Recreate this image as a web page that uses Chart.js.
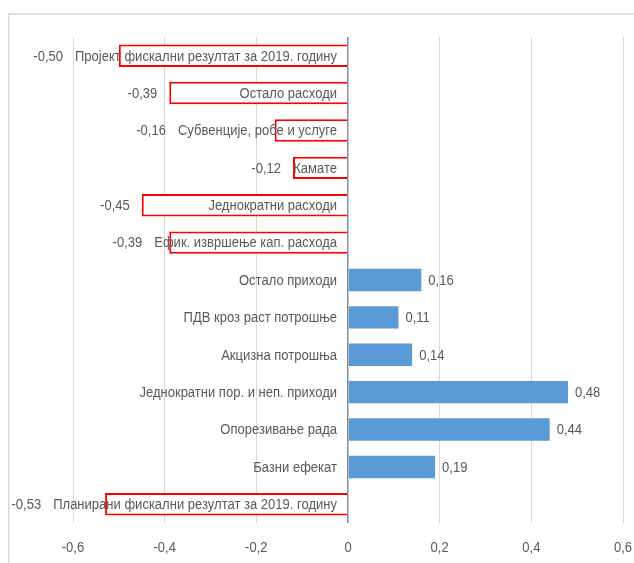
<!DOCTYPE html>
<html>
<head>
<meta charset="utf-8">
<script src="https://cdn.jsdelivr.net/npm/chart.js@4/dist/chart.umd.min.js"></script>
<style>
  html, body { margin: 0; padding: 0; background: #ffffff; }
  canvas { display: block; }
</style>
</head>
<body>
<canvas id="chart" width="634" height="563"></canvas>
<script>
/*global Chart*/

var categories = [
    "Пројект фискални резултат за 2019. годину",
    "Остало расходи",
    "Субвенције, робе и услуге",
    "Камате",
    "Једнократни расходи",
    "Ефик. извршење кап. расхода",
    "Остало приходи",
    "ПДВ кроз раст потрошње",
    "Акцизна потрошња",
    "Једнократни пор. и неп. приходи",
    "Опорезивање рада",
    "Базни ефекат",
    "Планирани фискални резултат за 2019. годину"
];

var values = [-0.50, -0.39, -0.16, -0.12, -0.45, -0.39, 0.16, 0.11, 0.14, 0.48, 0.44, 0.19, -0.53];

var xTicks = [-0.6, -0.4, -0.2, 0, 0.2, 0.4, 0.6];

var FONT = "14px 'Liberation Sans', Arial, sans-serif";
var SQUEEZE = 0.93; // narrow the text a bit, the original used Calibri
var TEXT = "#595959";

function comma(v, digits) {
    "use strict";
    return v.toFixed(digits).replace(".", ",");
}

function textWidth(ctx, s) {
    "use strict";
    return ctx.measureText(s).width * SQUEEZE;
}

// draws narrowed text, align is "left", "right" or "center"
function put(ctx, s, x, y, align) {
    "use strict";
    ctx.save();
    ctx.translate(x, y);
    ctx.scale(SQUEEZE, 1);
    ctx.textAlign = align;
    ctx.fillText(s, 0, 0);
    ctx.restore();
}

var labelPlugin = {
    id: "labelPlugin",
    beforeDraw: function (chart) {
        "use strict";
        var ctx = chart.ctx;
        ctx.save();
        ctx.strokeStyle = "#d9d9d9";
        ctx.lineWidth = 1.5;
        ctx.strokeRect(8.75, 13.75, 700, 700);
        ctx.restore();
    },
    afterDatasetsDraw: function (chart) {
        "use strict";
        var ctx = chart.ctx,
            meta = chart.getDatasetMeta(0),
            xs = chart.scales.x,
            zero = xs.getPixelForValue(0);
        ctx.save();
        ctx.font = FONT;
        ctx.fillStyle = TEXT;
        ctx.textBaseline = "middle";
        meta.data.forEach(function (bar, i) {
            var v = values[i],
                y = bar.y + 1,
                textStart = zero - 11 - textWidth(ctx, categories[i]);
            put(ctx, categories[i], zero - 11, y, "right");
            if (v < 0) {
                put(ctx, comma(v, 2), Math.min(bar.x, textStart) - 12, y, "right");
            } else {
                put(ctx, comma(v, 2), bar.x + 7, y, "left");
            }
        });
        xTicks.forEach(function (t) {
            put(ctx, t === 0 ? "0" : comma(t, 1), xs.getPixelForValue(t), chart.chartArea.bottom + 25, "center");
        });
        ctx.restore();
    }
};

var ctx = document.getElementById("chart").getContext("2d");

var chart = new Chart(ctx, {
    type: "bar",
    data: {
        labels: categories,
        datasets: [{
            data: values,
            backgroundColor: values.map(function (v) { return v < 0 ? "#ffffff" : "#5b9bd5"; }),
            borderColor: values.map(function (v) { return v < 0 ? "#ff0000" : "#5b9bd5"; }),
            borderWidth: values.map(function (v) { return v < 0 ? 2 : 0; }),
            barPercentage: 0.6,
            categoryPercentage: 1
        }]
    },
    options: {
        indexAxis: "y",
        responsive: false,
        animation: false,
        layout: {
            padding: { left: 73, right: 11, top: 37, bottom: 40 }
        },
        plugins: {
            legend: { display: false },
            tooltip: { enabled: false }
        },
        scales: {
            x: {
                min: xTicks[0],
                max: xTicks[xTicks.length - 1],
                afterBuildTicks: function (axis) {
                    axis.ticks = xTicks.map(function (v) { return { value: v }; });
                },
                afterFit: function (axis) {
                    axis.paddingLeft = 0;
                    axis.paddingRight = 0;
                },
                border: { display: false },
                grid: {
                    drawTicks: false,
                    color: function (c) { return c.tick && c.tick.value === 0 ? "#8c8c8c" : "#d9d9d9"; },
                    lineWidth: function (c) { return c.tick && c.tick.value === 0 ? 1.5 : 1; }
                },
                ticks: { display: false }
            },
            y: {
                display: false
            }
        }
    },
    plugins: [labelPlugin]
});
</script>
</body>
</html>
